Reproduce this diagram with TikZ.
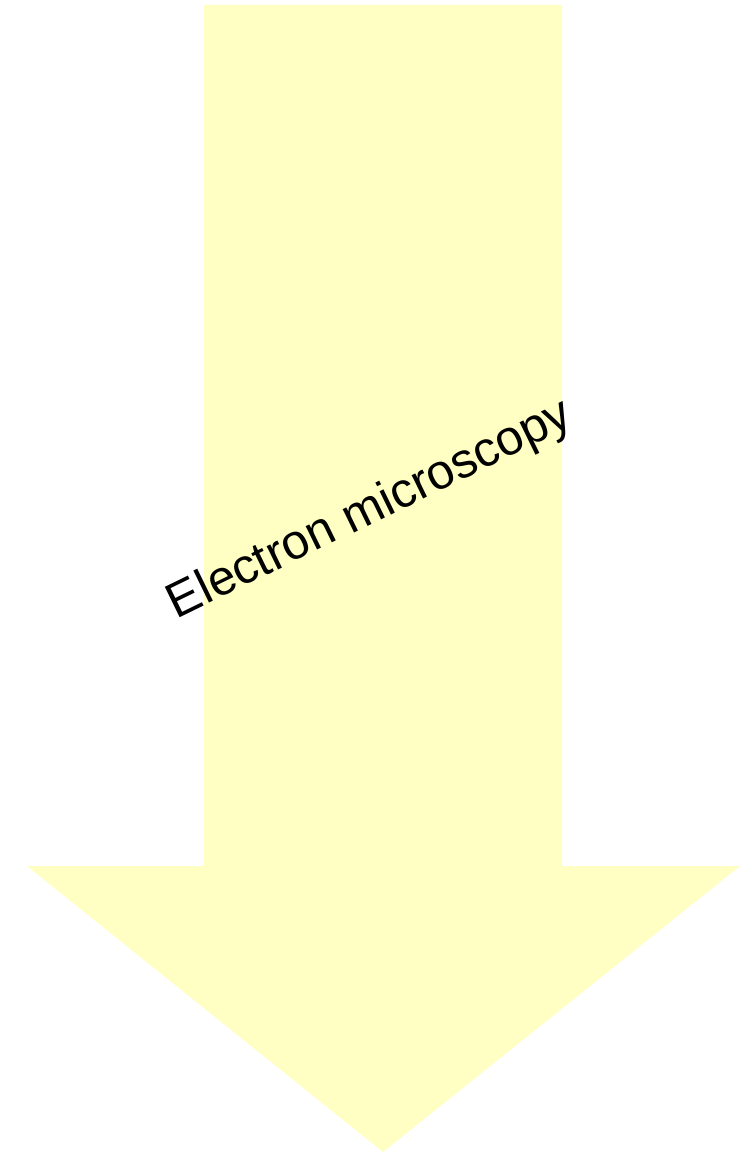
\documentclass[tikz,border=0pt]{standalone}
\usepackage{fontspec}
\setmainfont{Liberation Sans}
\usepackage{tikz}
\usetikzlibrary{positioning}
\usepackage{xcolor}
\definecolor{pale}{RGB}{255, 255, 196}

\begin{document}
\begin{tikzpicture}[x=0.02cm, y=-0.02cm, every node/.style={font=\fontsize{28}{34}\selectfont}]
      \useasboundingbox (0,0) rectangle (742,1155);
      % Arrow body and head
      \fill[pale] (204,5) -- (562,5) -- (562,866) -- (740,866)
            -- (383,1152) -- (27,866) -- (204,866) -- cycle;
      % Label across the shaft
      \node[anchor=base, rotate=26, inner sep=0pt] (em) at (376,522) {Electron microscopy};
    \end{tikzpicture}
\end{document}
